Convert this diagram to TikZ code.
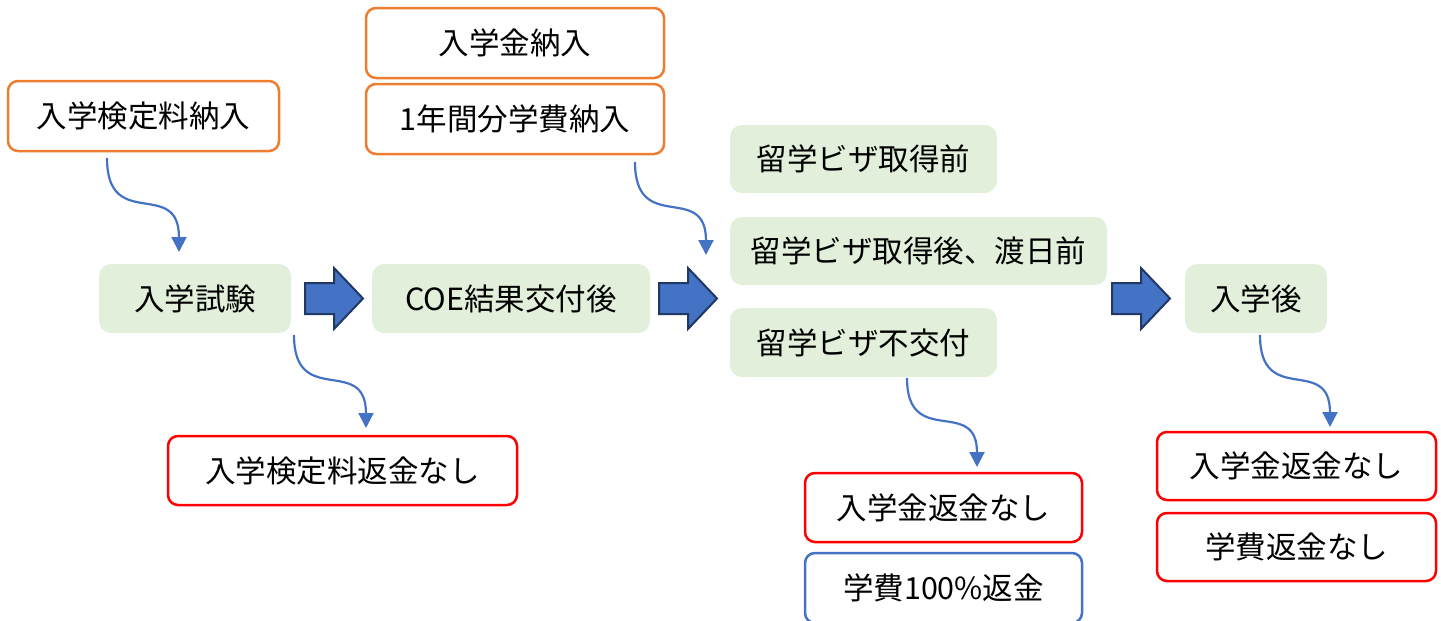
\documentclass[tikz,border=0pt]{standalone}
\usepackage{fontspec}
\setmainfont{Noto Sans CJK JP}
\usetikzlibrary{arrows.meta}
\definecolor{orgc}{HTML}{ED7D31}
\definecolor{grnc}{HTML}{E2EFDA}
\definecolor{redc}{HTML}{FF0000}
\definecolor{bluc}{HTML}{4472C4}
\definecolor{navc}{HTML}{1F3864}
\tikzset{
  base/.style={rounded corners=10pt, inner sep=0pt, align=center,
    font=\fontsize{30.5pt}{36pt}\selectfont, text=black},
  obox/.style={base, draw=orgc, line width=2.5pt, fill=white},
  rbox/.style={base, draw=redc, line width=2.5pt, fill=white},
  bbox/.style={base, draw=bluc, line width=2.5pt, fill=white},
  gbox/.style={base, fill=grnc, rounded corners=12pt},
  conn/.style={draw=bluc, line width=2.2pt, -{Triangle[width=15pt,length=15pt]}},
  blockarrow/.style={fill=bluc, draw=navc, line width=2pt, line join=miter}
}
\begin{document}
\begin{tikzpicture}[x=1pt,y=-1pt]
\useasboundingbox (0,0) rectangle (1441,621);
% orange boxes
\node[obox, minimum width=271pt, minimum height=70pt] (fee) at (143.5,116) {入学検定料納入};
\node[obox, minimum width=298pt, minimum height=70pt] (adm) at (515,43) {入学金納入};
\node[obox, minimum width=298pt, minimum height=70pt] (tui) at (515,119) {1年間分学費納入};
% green boxes
\node[gbox, minimum width=192pt, minimum height=69pt] (exam) at (195,298.5) {入学試験};
\node[gbox, minimum width=278pt, minimum height=69pt] (coe) at (511,298.5) {COE結果交付後};
\node[gbox, minimum width=267pt, minimum height=68pt] (vpre) at (863.5,159) {留学ビザ取得前};
\node[gbox, minimum width=377pt, minimum height=68pt] (vpost) at (918.5,251) {留学ビザ取得後、渡日前};
\node[gbox, minimum width=267pt, minimum height=69pt] (vno) at (863.5,342.5) {留学ビザ不交付};
\node[gbox, minimum width=142pt, minimum height=69pt] (after) at (1256,298.5) {入学後};
% result boxes
\node[rbox, minimum width=349pt, minimum height=69pt] (r1) at (342.5,470.5) {入学検定料返金なし};
\node[rbox, minimum width=277pt, minimum height=69pt] (r2) at (943.5,507.5) {入学金返金なし};
\node[bbox, minimum width=277pt, minimum height=70pt] (b1) at (943.5,588) {学費100\%返金};
\node[rbox, minimum width=279pt, minimum height=68pt] (r3) at (1296.5,466) {入学金返金なし};
\node[rbox, minimum width=279pt, minimum height=68pt] (r4) at (1296.5,547) {学費返金なし};
% block arrows
\foreach \L in {305, 659, 1112}{
  \draw[blockarrow] (\L,283) -- (\L+29,283) -- (\L+29,268) -- (\L+58,298.5)
     -- (\L+29,329) -- (\L+29,314) -- (\L,314) -- cycle;
}
% connector ends
\coordinate (a1) at (107,158);  \coordinate (a2) at (179,252);
\coordinate (b1s) at (635,162); \coordinate (b2) at (706,255);
\coordinate (c1) at (294,335);  \coordinate (c2) at (366,428);
\coordinate (d1) at (907,378);  \coordinate (d2) at (977,467);
\coordinate (e1) at (1260,335); \coordinate (e2) at (1330,427);
\draw[conn] (a1) .. controls +(0,75) and +(0,-75) .. (a2);
\draw[conn] (b1s) .. controls +(0,74) and +(0,-74) .. (b2);
\draw[conn] (c1) .. controls +(0,74) and +(0,-74) .. (c2);
\draw[conn] (d1) .. controls +(0,71) and +(0,-71) .. (d2);
\draw[conn] (e1) .. controls +(0,73) and +(0,-73) .. (e2);
\end{tikzpicture}
\end{document}
